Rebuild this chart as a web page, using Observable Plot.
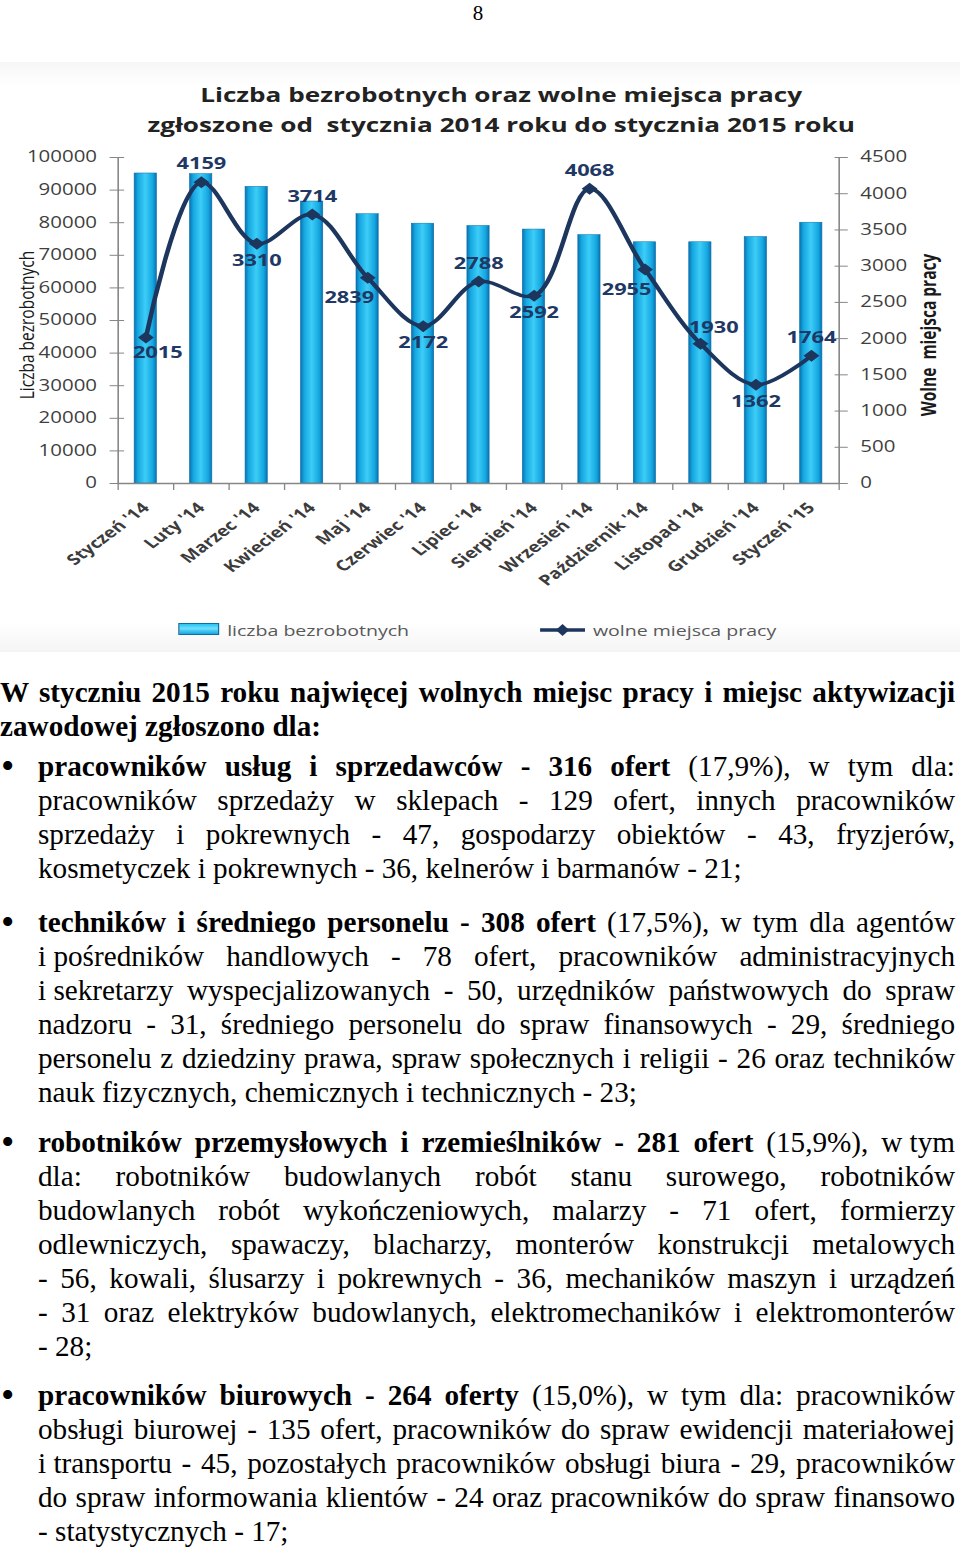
<!DOCTYPE html>
<html lang="pl"><head><meta charset="utf-8">
<script src="https://cdn.jsdelivr.net/npm/d3@7"></script>
<script src="https://cdn.jsdelivr.net/npm/@observablehq/plot@0.6"></script>
<style>
html,body{margin:0;padding:0;background:#fff;}
#page{position:relative;width:960px;height:1547px;overflow:hidden;background:#fff;}
#pnum{position:absolute;left:0;top:1px;width:956px;text-align:center;font:21px/24px "Liberation Serif",serif;color:#000;}
#panel{position:absolute;left:0;top:62px;width:960px;height:590px;background:linear-gradient(#f6f6f6,#fff 4%,#fff 95%,#f4f4f4);}
#chart{position:absolute;left:0;top:0;width:727px;height:660px;transform:scaleX(1.3205);transform-origin:0 0;}
#plot{position:absolute;left:0;top:140px;}
.ttl{position:absolute;left:0;width:759px;text-align:center;font:700 19.8px/24px "Open Sans",sans-serif;color:#222;white-space:pre;}
.ytitle{position:absolute;white-space:pre;font:600 15.5px/18px "Open Sans",sans-serif;color:#1a1a1a;transform:translate(-50%,-50%) rotate(-90deg);}
.legtxt{position:absolute;top:620px;font:400 14.8px/20px "Open Sans",sans-serif;color:#595959;white-space:pre;}
#swatch{position:absolute;left:135px;top:623px;width:31px;height:12px;box-sizing:border-box;border:1px solid #0b6fa8;background:linear-gradient(#27c3f2,#6ee0ff 45%,#15a6df);}
#lineSw{position:absolute;left:408px;top:620px;}
.para{position:absolute;font-family:"Liberation Serif","Times New Roman",serif;font-size:29.2px;line-height:34px;color:#000;}
.ln{display:block;white-space:nowrap;width:max-content;}
.bul{position:absolute;left:-37px;top:0;font-size:38px;}
</style>
</head><body>
<div id="page">
  <div id="pnum">8</div>
  <div id="panel"></div>
  <div id="chart">
    <div class="ttl" style="top:83px">Liczba bezrobotnych oraz wolne miejsca pracy</div>
    <div class="ttl" style="top:113px">zgłoszone od  stycznia 2014 roku do stycznia 2015 roku</div>
    <div class="ytitle" style="left:20px;top:325px;font-weight:500">Liczba bezrobotnych</div>
    <div class="ytitle" style="left:703px;top:335px;font-weight:700">Wolne  miejsca pracy</div>
    <div id="plot"></div>
    <div id="swatch"></div>
    <div class="legtxt" style="left:172px">liczba bezrobotnych</div>
    <svg id="lineSw" width="36" height="20"><line x1="1" y1="10" x2="35" y2="10" stroke="#1c365e" stroke-width="3.5"/><path d="M18,4 L23,10 L18,16 L13,10 Z" fill="#1c365e"/></svg>
    <div class="legtxt" style="left:449px">wolne miejsca pracy</div>
  </div>

  <div class="para" data-w="955" style="left:0;top:675px">
    <span class="ln j"><b>W styczniu 2015 roku najwięcej wolnych miejsc pracy i miejsc aktywizacji</b></span>
    <span class="ln"><b>zawodowej zgłoszono dla:</b></span>
  </div>

  <div class="para" data-w="917" style="left:38px;top:749px">
    <span class="bul">•</span>
    <span class="ln j"><b>pracowników usług i sprzedawców - 316 ofert</b> (17,9%), w tym dla:</span>
    <span class="ln j">pracowników sprzedaży w sklepach - 129 ofert, innych pracowników</span>
    <span class="ln j">sprzedaży i pokrewnych - 47, gospodarzy obiektów - 43, fryzjerów,</span>
    <span class="ln">kosmetyczek i pokrewnych - 36, kelnerów i barmanów - 21;</span>
  </div>

  <div class="para" data-w="917" style="left:38px;top:905px">
    <span class="bul">•</span>
    <span class="ln j"><b>techników i średniego personelu - 308 ofert</b> (17,5%), w tym dla agentów</span>
    <span class="ln j">i&#8197;pośredników handlowych - 78 ofert, pracowników administracyjnych</span>
    <span class="ln j">i&#8197;sekretarzy wyspecjalizowanych - 50, urzędników państwowych do spraw</span>
    <span class="ln j">nadzoru - 31, średniego personelu do spraw finansowych - 29, średniego</span>
    <span class="ln j">personelu z dziedziny prawa, spraw społecznych i religii - 26 oraz techników</span>
    <span class="ln">nauk fizycznych, chemicznych i technicznych - 23;</span>
  </div>

  <div class="para" data-w="917" style="left:38px;top:1125px">
    <span class="bul">•</span>
    <span class="ln j"><b>robotników przemysłowych i rzemieślników - 281 ofert</b> (15,9%), w&#8197;tym</span>
    <span class="ln j">dla: robotników budowlanych robót stanu surowego, robotników</span>
    <span class="ln j">budowlanych robót wykończeniowych, malarzy - 71 ofert, formierzy</span>
    <span class="ln j">odlewniczych, spawaczy, blacharzy, monterów konstrukcji metalowych</span>
    <span class="ln j">- 56, kowali, ślusarzy i pokrewnych - 36, mechaników maszyn i urządzeń</span>
    <span class="ln j">- 31 oraz elektryków budowlanych, elektromechaników i elektromonterów</span>
    <span class="ln">- 28;</span>
  </div>

  <div class="para" data-w="917" style="left:38px;top:1378px">
    <span class="bul">•</span>
    <span class="ln j"><b>pracowników biurowych - 264 oferty</b> (15,0%), w tym dla: pracowników</span>
    <span class="ln j">obsługi biurowej - 135 ofert, pracowników do spraw ewidencji materiałowej</span>
    <span class="ln j">i&#8197;transportu - 45, pozostałych pracowników obsługi biura - 29, pracowników</span>
    <span class="ln j">do spraw informowania klientów - 24 oraz pracowników do spraw finansowo</span>
    <span class="ln">- statystycznych - 17;</span>
  </div>
</div>

<svg width="0" height="0" style="position:absolute">
  <defs>
    <linearGradient id="barGrad" x1="0" x2="1" y1="0" y2="0">
      <stop offset="0" stop-color="#0a72b0"/>
      <stop offset="0.16" stop-color="#14a6e0"/>
      <stop offset="0.5" stop-color="#3dcdf7"/>
      <stop offset="0.84" stop-color="#14a6e0"/>
      <stop offset="1" stop-color="#0a72b0"/>
    </linearGradient>
  </defs>
</svg>

<script>
const months = ["Styczeń '14","Luty '14","Marzec '14","Kwiecień '14","Maj '14","Czerwiec '14","Lipiec '14","Sierpień '14","Wrzesień '14","Październik '14","Listopad '14","Grudzień '14","Styczeń '15"];
const unemployed = [95100, 94900, 91000, 86500, 82600, 79700, 79000, 77900, 76200, 74000, 74000, 75600, 80000];
const vacancies = [2015, 4159, 3310, 3714, 2839, 2172, 2788, 2592, 4068, 2955, 1930, 1362, 1764];
const leftTicks = [0, 10000, 20000, 30000, 40000, 50000, 60000, 70000, 80000, 90000, 100000];
const rightTicks = [0, 500, 1000, 1500, 2000, 2500, 3000, 3500, 4000, 4500];
const labelPlace = ["below-right","above","below","above","below-left","below","above","below","above","below-left","above-right","below","above"];

const leftMax = 100000, rightMax = 4500;
const k = leftMax / rightMax;
const rows = months.map((m, i) => ({i, month: m, unemployed: unemployed[i], vacancies: vacancies[i], place: labelPlace[i]}));
const offsets = {"above": [0, -18], "below": [0, 17], "below-right": [9, 15], "below-left": [-14, 20], "above-right": [10, -16]};
const xc = d => d.i + 0.5;
const yv = d => d.vacancies * k;
const axisGray = "#868686";
const navy = "#1c365e";

const labelMarks = Object.entries(offsets).map(([p, [dx, dy]]) =>
  Plot.text(rows.filter(d => d.place === p), {
    x: xc, y: yv, text: d => String(d.vacancies), dx, dy,
    fontSize: 16.5, fontWeight: "bold", fontFamily: "Open Sans", fill: "#1f3864"
  }));

const chart = Plot.plot({
  width: 727, height: 460,
  marginLeft: 89, marginRight: 92, marginTop: 17, marginBottom: 117,
  x: {domain: [0, months.length], axis: null, label: null},
  y: {domain: [0, leftMax], axis: null, label: null},
  style: {background: "transparent", fontFamily: "Open Sans", overflow: "visible"},
  marks: [
    Plot.rect(rows, {x1: d => d.i + 0.3, x2: d => d.i + 0.7, y1: 0, y2: "unemployed", fill: "url(#barGrad)", stroke: "#0b6fa8", strokeWidth: 0.5}),
    Plot.ruleX([0, months.length], {stroke: axisGray, strokeWidth: 1.2}),
    Plot.ruleY([0], {stroke: axisGray, strokeWidth: 1.5}),
    Plot.axisY(leftTicks, {anchor: "left", tickSize: 11, dx: 5, tickPadding: 10, stroke: axisGray, fill: "#3f3f3f", fontSize: 15.5, tickFormat: d => String(d)}),
    Plot.axisY(rightTicks.map(v => v * k), {anchor: "right", tickSize: 10, dx: -4, tickPadding: 10, stroke: axisGray, fill: "#3f3f3f", fontSize: 15.5, tickFormat: d => String(Math.round(d / k))}),
    Plot.axisX(d3.range(0, months.length + 1), {anchor: "bottom", tickSize: 7, stroke: axisGray, fill: "none", tickFormat: () => ""}),
    Plot.axisX(months.map((m, i) => i + 0.5), {anchor: "bottom", tickSize: 0, tickRotate: -45, tickPadding: 22, fontSize: 14.8, fontWeight: "bold", fill: "#3c3c3c", tickFormat: d => months[Math.round(d - 0.5)]}),
    Plot.line(rows, {x: xc, y: yv, curve: "catmull-rom", stroke: navy, strokeWidth: 3.5}),
    Plot.dot(rows, {x: xc, y: yv, symbol: "square", rotate: 45, r: 4.8, fill: navy}),
    ...labelMarks
  ]
});
document.getElementById("plot").appendChild(chart);

function justify() {
  document.querySelectorAll(".ln.j").forEach(el => {
    el.style.wordSpacing = "0px";
    const W = +el.parentElement.dataset.w;
    const w = el.getBoundingClientRect().width;
    const n = (el.textContent.match(/ /g) || []).length;
    if (n) el.style.wordSpacing = ((W - w) / n) + "px";
  });
}
justify();
if (document.fonts) document.fonts.ready.then(justify);
</script>
</body></html>
